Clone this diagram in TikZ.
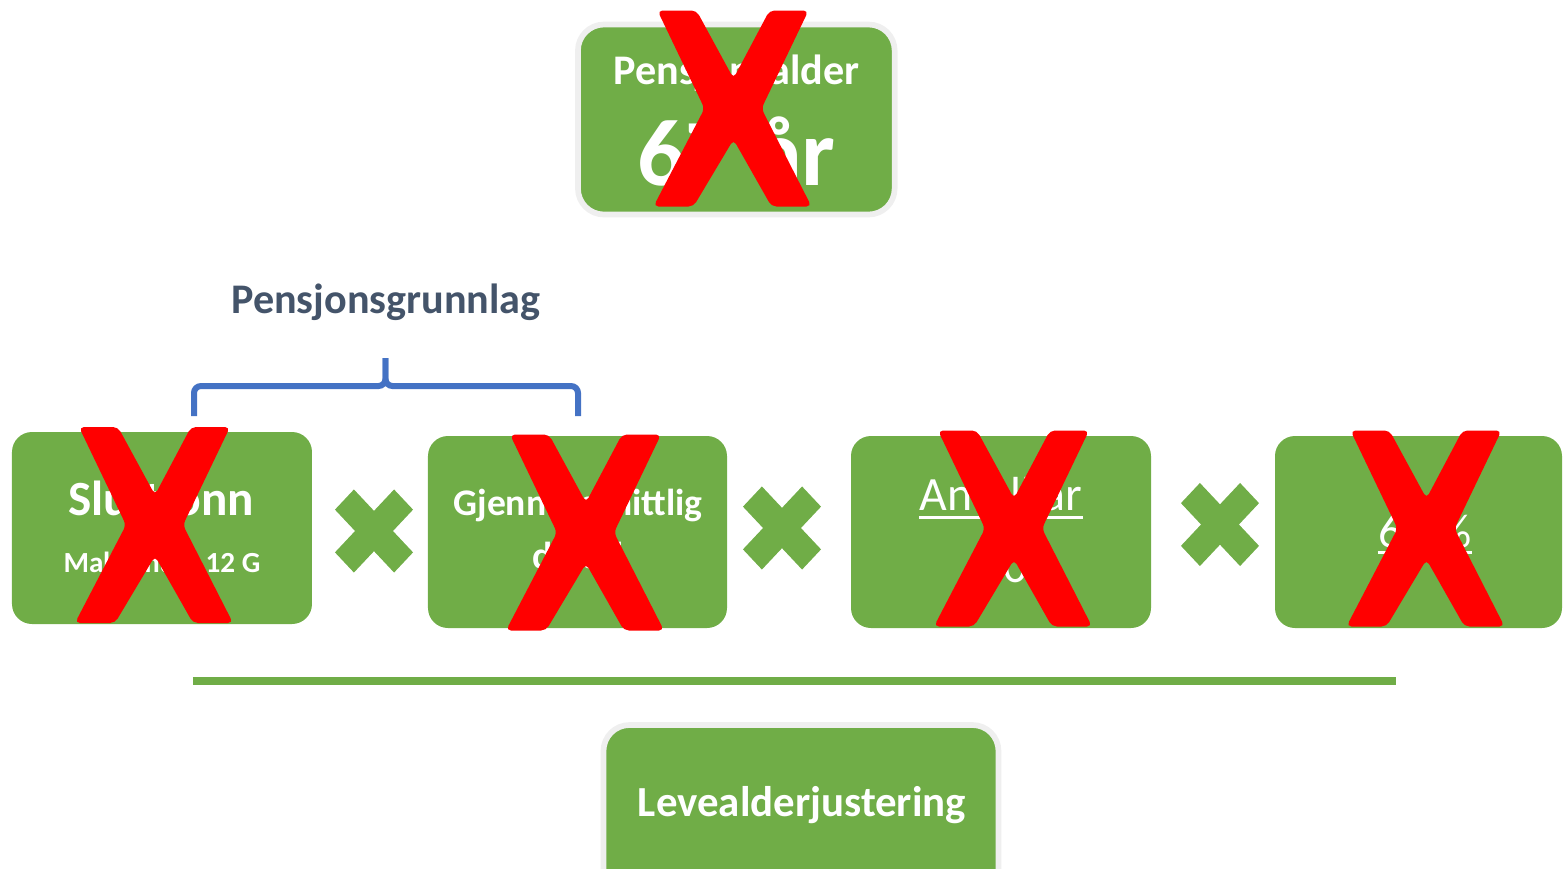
\documentclass[tikz,border=0pt]{standalone}
\usepackage{fontspec}
\setmainfont{Carlito}
\definecolor{gronn}{HTML}{70AD47}
\definecolor{halo}{HTML}{EFEFEF}
\definecolor{skifer}{HTML}{44546A}
\definecolor{bla}{HTML}{4472C4}
\tikzset{
  boks/.style={fill=gronn, rounded corners=0.2cm, inner sep=0pt},
  rammeboks/.style={boks, draw=halo, line width=0.057cm, rounded corners=0.26cm},
  hvit/.style={text=white, inner sep=0pt, anchor=base, font=\bfseries\fontsize{#1}{#1}\selectfont},
  tynn/.style={text=white, inner sep=0pt, anchor=base, font=\fontsize{#1}{#1}\selectfont},
  klamme/.style={bla, line width=0.06cm, rounded corners=0.07cm},
  strek/.style={white, line width=0.03cm},
  gangetegn/.pic={
    \fill[gronn, yscale=1.064, rotate=45] (0.134,0.418) -- (0.134,0.134) -- (0.418,0.134) -- (0.418,-0.134)
      -- (0.134,-0.134) -- (0.134,-0.418) -- (-0.134,-0.418) -- (-0.134,-0.134) -- (-0.418,-0.134)
      -- (-0.418,0.134) -- (-0.134,0.134) -- (-0.134,0.418) -- cycle;
  },
  rodtX/.pic={
    \fill[red, rounded corners=0.05cm] (-0.76,-0.98) -- (-0.37,-0.98) -- (0,-0.30) -- (0.36,-0.98) -- (0.75,-0.98)
      -- (0.28,0) -- (0.78,0.98) -- (0.38,0.98) -- (0,0.31) -- (-0.40,0.98) -- (-0.80,0.98) -- (-0.29,0) -- cycle;
  }
}
\begin{document}
\begin{tikzpicture}[x=1cm,y=-1cm]
  \useasboundingbox (0,0) rectangle (15.63,8.68);
  % pensjonsalder
  \node[rammeboks, minimum width=3.167cm, minimum height=1.9cm] (alder) at (7.363,1.195) {};
  \node[hvit=12] (alderTekst) at (7.365,0.84) {Pensjonsalder};
  \node[hvit=27] (alderTall) at (7.365,1.85) {67 år};
  \pic (kryssAlder) at (7.335,1.085) {rodtX};
  % klamme og overskrift
  \node[text=skifer, inner sep=0pt, anchor=base, font=\bfseries\fontsize{12}{12}\selectfont] (grunnlag) at (3.86,3.137) {Pensjonsgrunnlag};
  \draw[klamme] (1.94,4.16) -- (1.94,3.86) -- (3.855,3.86) -- (3.855,3.58);
  \draw[klamme] (5.78,4.16) -- (5.78,3.86) -- (3.855,3.86) -- (3.855,3.58);
  % faktorene
  \node[boks, minimum width=3cm, minimum height=1.92cm] (slutt) at (1.62,5.28) {};
  \node[boks, minimum width=2.99cm, minimum height=1.92cm] (snitt) at (5.775,5.32) {};
  \node[boks, minimum width=3cm, minimum height=1.92cm] (aar) at (10.01,5.32) {};
  \node[boks, minimum width=2.87cm, minimum height=1.92cm] (prosent) at (14.185,5.32) {};
  \node[hvit=14] (sluttTekst) at (1.61,5.155) {Sluttlønn};
  \node[hvit=8.3] (sluttMaks) at (1.62,5.725) {Maksimum 12 G};
  \node[hvit=10.7] (snittTekst) at (5.78,5.15) {Gjennomsnittlig};
  \node[hvit=10.7] (snittAndel) at (5.78,5.68) {deltid};
  \node[tynn=13.6] (aarTekst) at (10.01,5.10) {Antall år};
  \draw[strek] ([yshift=-2pt]aarTekst.base west) -- ([yshift=-2pt]aarTekst.base east);
  \node[tynn=13.6] (aarTall) at (10.03,5.82) {30};
  \node[tynn=13.6] (prosentTekst) at (14.25,5.47) {66 \%};
  \draw[strek] ([yshift=-1.5pt]prosentTekst.base west) -- ([yshift=-1.5pt]prosentTekst.base east);
  \pic (gange1) at (3.74,5.31) {gangetegn};
  \pic (gange2) at (7.82,5.28) {gangetegn};
  \pic (gange3) at (12.20,5.245) {gangetegn};
  \pic (kryss1) at (1.55,5.25) {rodtX};
  \pic (kryss2) at (5.86,5.325) {rodtX};
  \pic (kryss3) at (10.14,5.285) {rodtX};
  \pic (kryss4) at (14.265,5.285) {rodtX};
  % brok-strek og levealder
  \draw[gronn, line width=0.08cm] (1.93,6.81) -- (13.96,6.81);
  \node[rammeboks, minimum width=3.95cm, minimum height=1.9cm] (leve) at (8.01,8.2) {};
  \node[hvit=12.2] (leveTekst) at (8.02,8.167) {Levealderjustering};
\end{tikzpicture}
\end{document}
